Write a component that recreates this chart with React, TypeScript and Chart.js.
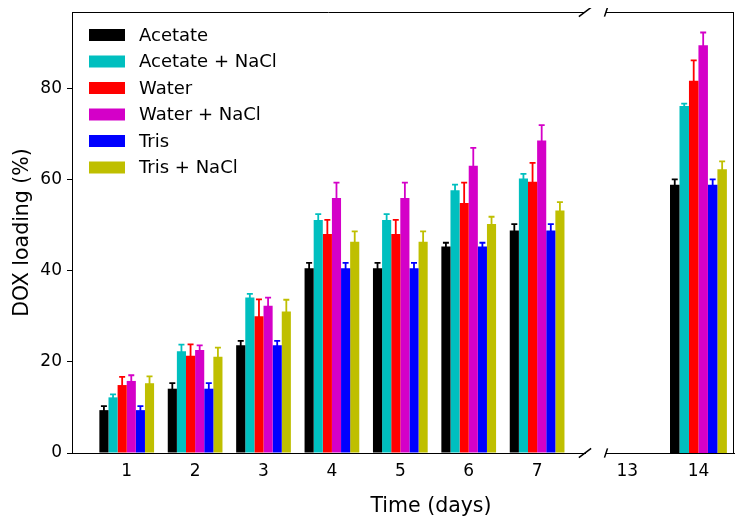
import React, { useEffect, useRef } from "react";
import { Chart, registerables } from "chart.js";

Chart.register(...registerables);

const FONT = "'DejaVu Sans', 'Liberation Sans', sans-serif";

const SERIES = ["Acetate", "Acetate + NaCl", "Water", "Water + NaCl", "Tris", "Tris + NaCl"];
const COLORS = ["#000000", "#00bfbf", "#ff0000", "#d400c8", "#0000ff", "#bfbf00"];

const DAYS = [1, 2, 3, 4, 5, 6, 7, 14];
const EARLY_TICKS = [1, 2, 3, 4, 5, 6, 7];
const LATE_TICKS = [13, 14];
const Y_TICKS = [0, 20, 40, 60, 80];

const ACETATE = [9.4, 14.1, 23.6, 40.5, 40.5, 45.3, 48.8, 58.8];
const ACETATE_ERR = [0.9, 1.2, 1.0, 1.2, 1.2, 0.8, 1.4, 1.2];
const ACETATE_NACL = [12.2, 22.3, 34.1, 51.1, 51.1, 57.6, 60.2, 76.1];
const ACETATE_NACL_ERR = [0.65, 1.45, 0.8, 1.3, 1.3, 1.25, 1.0, 0.5];
const WATER = [14.9, 21.3, 30.0, 48.0, 48.0, 54.8, 59.5, 81.6];
const WATER_ERR = [1.8, 2.5, 3.7, 3.1, 3.1, 4.5, 4.1, 4.5];
const WATER_NACL = [15.8, 22.6, 32.3, 55.9, 55.9, 63.0, 68.5, 89.4];
const WATER_NACL_ERR = [1.25, 1.0, 1.75, 3.4, 3.4, 3.9, 3.4, 2.8];
const TRIS = [9.4, 14.1, 23.6, 40.5, 40.5, 45.3, 48.8, 58.8];
const TRIS_ERR = [0.9, 1.2, 1.0, 1.2, 1.2, 0.8, 1.4, 1.2];
const TRIS_NACL = [15.3, 21.1, 31.0, 46.3, 46.3, 50.2, 53.2, 62.2];
const TRIS_NACL_ERR = [1.5, 2.0, 2.6, 2.3, 2.3, 1.6, 1.8, 1.75];

const VALUES = [ACETATE, ACETATE_NACL, WATER, WATER_NACL, TRIS, TRIS_NACL];
const ERRORS = [ACETATE_ERR, ACETATE_NACL_ERR, WATER_ERR, WATER_NACL_ERR, TRIS_ERR, TRIS_NACL_ERR];

const Y_MAX = 96.7;

function buildDatasets(keep: (day: number) => boolean) {
  const idx = DAYS.map((d, i) => i).filter((i) => keep(DAYS[i]));
  return SERIES.map((label, s) => ({
    label,
    data: idx.map((i) => ({ x: DAYS[i], y: VALUES[s][i] })),
    errors: idx.map((i) => ERRORS[s][i]),
    backgroundColor: COLORS[s],
    borderWidth: 0,
    categoryPercentage: 0.8,
    barPercentage: 1.0,
  }));
}

const errorBarPlugin = {
  id: "errorBars",
  afterDatasetsDraw(chart: any) {
    const ctx = chart.ctx;
    const y = chart.scales.y;
    chart.data.datasets.forEach((ds: any, di: number) => {
      const meta = chart.getDatasetMeta(di);
      meta.data.forEach((bar: any, j: number) => {
        const v = ds.data[j].y;
        const e = ds.errors[j];
        const yTop = y.getPixelForValue(v + e);
        const yBot = y.getPixelForValue(v - e);
        ctx.save();
        ctx.strokeStyle = ds.backgroundColor;
        ctx.lineWidth = 1.8;
        ctx.beginPath();
        ctx.moveTo(bar.x, yTop);
        ctx.lineTo(bar.x, yBot);
        ctx.moveTo(bar.x - 3, yTop);
        ctx.lineTo(bar.x + 3, yTop);
        ctx.moveTo(bar.x - 3, yBot);
        ctx.lineTo(bar.x + 3, yBot);
        ctx.stroke();
        ctx.restore();
      });
    });
  },
};

function makeFramePlugin(side: "left" | "right") {
  return {
    id: "frame_" + side,
    afterDraw(chart: any) {
      const { ctx, chartArea } = chart;
      const { left, right, top, bottom } = chartArea;
      const w = right - left;
      const h = bottom - top;
      ctx.save();
      ctx.strokeStyle = "#000";
      ctx.lineWidth = 1;
      ctx.beginPath();
      ctx.moveTo(left, top + 0.5);
      ctx.lineTo(right, top + 0.5);
      if (side === "left") {
        ctx.moveTo(right - 0.5, top);
        ctx.lineTo(right - 0.5, bottom);
      }
      ctx.stroke();
      // break marks
      const bx = side === "right" ? right : left;
      const dx = 0.012 * w;
      const dy = 0.0105 * h;
      ctx.lineWidth = 1.5;
      ctx.beginPath();
      [top, bottom].forEach((yy) => {
        ctx.moveTo(bx - dx, yy + dy);
        ctx.lineTo(bx + dx, yy - dy);
      });
      ctx.stroke();
      ctx.restore();
    },
  };
}

const legendPlugin = {
  id: "innerLegend",
  afterDraw(chart: any) {
    const { ctx, chartArea } = chart;
    ctx.save();
    ctx.font = `18px ${FONT}`;
    ctx.textBaseline = "middle";
    ctx.textAlign = "left";
    chart.data.datasets.forEach((ds: any, i: number) => {
      const cy = chartArea.top + 23 + i * 26.5;
      ctx.fillStyle = ds.backgroundColor;
      ctx.fillRect(chartArea.left + 17, cy - 6, 36, 12);
      ctx.fillStyle = "#000";
      ctx.fillText(ds.label, chartArea.left + 67, cy + 1);
    });
    ctx.restore();
  },
};

function xScale(min: number, max: number, ticks: number[]) {
  return {
    type: "linear",
    offset: false,
    min,
    max,
    afterBuildTicks: (s: any) => {
      s.ticks = ticks.map((v) => ({ value: v }));
    },
    afterFit: (s: any) => {
      s.height = 63;
      s.paddingLeft = 0;
      s.paddingRight = 0;
    },
    grid: { display: false, drawTicks: false, offset: false },
    border: { display: true, color: "#000", width: 1 },
    ticks: {
      font: { family: FONT, size: 17 },
      color: "#000",
      padding: 8,
      maxRotation: 0,
      autoSkip: false,
      callback: (v: any) => String(v),
    },
  };
}

function yScale(show: boolean) {
  return {
    display: show,
    min: 0,
    max: Y_MAX,
    afterBuildTicks: (s: any) => {
      s.ticks = Y_TICKS.map((v) => ({ value: v }));
    },
    afterFit: (s: any) => {
      s.width = show ? 64 : 0;
      s.paddingTop = 0;
      s.paddingBottom = 0;
    },
    grid: { display: true, drawOnChartArea: false, drawTicks: true, tickLength: 5, color: "#000", tickWidth: 1 },
    border: { display: true, color: "#000", width: 1 },
    ticks: { font: { family: FONT, size: 17 }, color: "#000", padding: 5 },
    title: {
      display: true,
      text: "DOX loading (%)",
      font: { family: FONT, size: 20.5 },
      color: "#000",
      padding: { top: 2, bottom: 0 },
    },
  };
}

function BrokenChart() {
  const leftRef = useRef<HTMLCanvasElement | null>(null);
  const rightRef = useRef<HTMLCanvasElement | null>(null);

  useEffect(() => {
    const common = {
      responsive: true,
      maintainAspectRatio: false,
      animation: false,
      plugins: { legend: { display: false }, tooltip: { enabled: false } },
    };
    const left = new Chart(leftRef.current as HTMLCanvasElement, {
      type: "bar",
      data: { datasets: buildDatasets((d) => d <= 7) as any },
      options: {
        ...common,
        layout: { padding: { top: 4, right: 10, left: 0, bottom: 0 } },
        scales: { x: xScale(0.2, 7.7, EARLY_TICKS) as any, y: yScale(true) as any },
      } as any,
      plugins: [errorBarPlugin, makeFramePlugin("right"), legendPlugin],
    });
    const right = new Chart(rightRef.current as HTMLCanvasElement, {
      type: "bar",
      data: { datasets: buildDatasets((d) => d > 7) as any },
      options: {
        ...common,
        layout: { padding: { top: 4, right: 4, left: 11, bottom: 0 } },
        scales: { x: xScale(12.7, 14.5, LATE_TICKS) as any, y: yScale(false) as any },
      } as any,
      plugins: [errorBarPlugin, makeFramePlugin("left"), {
        id: "rightSpine",
        afterDraw(chart: any) {
          const { ctx, chartArea } = chart;
          ctx.save();
          ctx.strokeStyle = "#000";
          ctx.lineWidth = 1;
          ctx.beginPath();
          ctx.moveTo(chartArea.right - 0.5, chartArea.top);
          ctx.lineTo(chartArea.right - 0.5, chartArea.bottom);
          ctx.stroke();
          ctx.restore();
        },
      }],
    });
    return () => {
      left.destroy();
      right.destroy();
    };
  }, []);

  return (
    <div style={{ position: "relative", width: 730, height: 508, overflow: "hidden", fontFamily: FONT }}>
      <div style={{ position: "absolute", left: 0, top: 0, width: 587, height: 508 }}>
        <canvas ref={leftRef} />
      </div>
      <div style={{ position: "absolute", left: 587, top: 0, width: 143, height: 508 }}>
        <canvas ref={rightRef} />
      </div>
      <div
        style={{
          position: "absolute",
          left: 423,
          top: 486.5,
          transform: "translateX(-50%)",
          fontSize: 20.5,
          lineHeight: 1,
          whiteSpace: "nowrap",
          color: "#000",
        }}
      >
        Time (days)
      </div>
    </div>
  );
}

export default function App() {
  return <BrokenChart />;
}
